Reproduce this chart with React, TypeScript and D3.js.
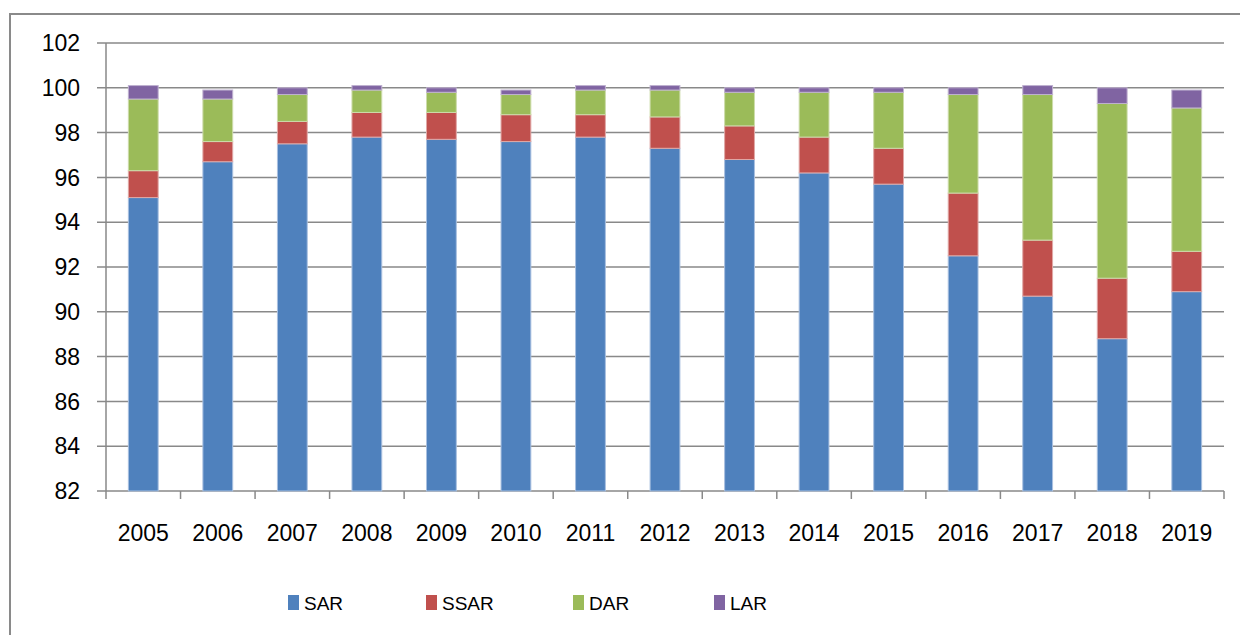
import React from "react";
import * as d3 from "d3";

const years = ["2005","2006","2007","2008","2009","2010","2011","2012","2013","2014","2015","2016","2017","2018","2019"];
const SAR = [95.1, 96.7, 97.5, 97.8, 97.7, 97.6, 97.8, 97.3, 96.8, 96.2, 95.7, 92.5, 90.7, 88.8, 90.9];
const SSAR = [1.2, 0.9, 1.0, 1.1, 1.2, 1.2, 1.0, 1.4, 1.5, 1.6, 1.6, 2.8, 2.5, 2.7, 1.8];
const DAR = [3.2, 1.9, 1.2, 1.0, 0.9, 0.9, 1.1, 1.2, 1.5, 2.0, 2.5, 4.4, 6.5, 7.8, 6.4];
const LAR = [0.6, 0.4, 0.3, 0.2, 0.2, 0.2, 0.2, 0.2, 0.2, 0.2, 0.2, 0.3, 0.4, 0.7, 0.8];
const seriesNames = ["SAR", "SSAR", "DAR", "LAR"];
const yTicks = [82, 84, 86, 88, 90, 92, 94, 96, 98, 100, 102];

const colors = ["#4F81BD", "#C0504D", "#9BBB59", "#8064A2"];
const strokes = ["#a9c0e0", "#e0a8a6", "#cddcab", "#bfb1d0"];

export default function App() {
  const W = 1240, H = 635;
  const left = 106, right = 1224, top = 43, bottom = 491;
  const y = d3.scaleLinear().domain([82, 102]).range([bottom, top]);
  const x = d3.scaleBand().domain(years).range([left, right]).padding(0);
  const bw = x.bandwidth() * 0.4;

  const table = years.map((yr, i) => ({ year: yr, SAR: SAR[i], SSAR: SSAR[i], DAR: DAR[i], LAR: LAR[i] }));
  const stacked = d3.stack<any>().keys(seriesNames)(table);

  const font = "'Liberation Sans', Arial, sans-serif";
  const gridColor = "#898989";

  const legendX = [288, 426, 573, 714];

  return (
    <svg width={W} height={H} style={{ position: "absolute", left: 0, top: 0, background: "#fff" }}>
      <rect x={0} y={0} width={W} height={H} fill="#fff" />
      <rect x={10} y={14} width={W + 20} height={H + 20} fill="none" stroke="#8a8a8a" strokeWidth={2} />
      {yTicks.map((t) => (
        <line key={t} x1={97} x2={right} y1={y(t)} y2={y(t)} stroke={gridColor} strokeWidth={1.5} />
      ))}
      <line x1={left} x2={left} y1={top} y2={bottom} stroke={gridColor} strokeWidth={1.5} />
      {years.map((yr) => (
        <line key={"t" + yr} x1={x(yr)!} x2={x(yr)!} y1={bottom} y2={bottom + 8} stroke={gridColor} strokeWidth={1.5} />
      ))}
      <line x1={right} x2={right} y1={bottom} y2={bottom + 8} stroke={gridColor} strokeWidth={1.5} />
      {stacked.map((s, si) => (
        <g key={s.key}>
          {s.map((d, i) => {
            const y0 = Math.max(d[0], 82);
            const y1 = d[1];
            const cx = x(years[i])! + x.bandwidth() / 2;
            return (
              <rect
                key={i}
                x={cx - bw / 2}
                y={y(y1)}
                width={bw}
                height={y(y0) - y(y1)}
                fill={colors[si]}
                stroke={strokes[si]}
                strokeWidth={1}
              />
            );
          })}
        </g>
      ))}
      {yTicks.map((t) => (
        <text key={"l" + t} x={80} y={y(t)} dy="0.36em" textAnchor="end" fontFamily={font} fontSize={23} fill="#000">
          {t}
        </text>
      ))}
      {years.map((yr) => (
        <text key={"x" + yr} x={x(yr)! + x.bandwidth() / 2} y={541} textAnchor="middle" fontFamily={font} fontSize={23} fill="#000">
          {yr}
        </text>
      ))}
      {seriesNames.map((n, i) => (
        <g key={"lg" + n}>
          <rect x={legendX[i]} y={595} width={11} height={15} fill={colors[i]} />
          <text x={legendX[i] + 16} y={610} fontFamily={font} fontSize={19} fill="#000">
            {n}
          </text>
        </g>
      ))}
    </svg>
  );
}
